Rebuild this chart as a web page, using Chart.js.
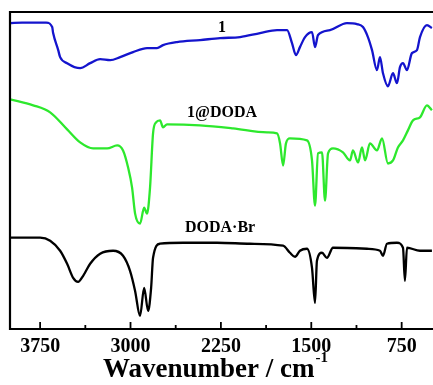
<!DOCTYPE html>
<html>
<head>
<meta charset="utf-8">
<script src="https://cdn.jsdelivr.net/npm/chart.js@4.4.0/dist/chart.umd.min.js"></script>
<style>
  html, body { margin: 0; padding: 0; background: #fff; }
  #wrap { width: 433px; height: 385px; position: relative; }
</style>
</head>
<body>
<div id="wrap"><canvas id="irChart"></canvas></div>
<script>
// IR spectra, wavenumber (cm-1) vs. transmittance (arbitrary, offset traces)
const wnBlue = [4000, 3900, 3700, 3650, 3642, 3600, 3584, 3526, 3418, 3335, 3252, 3169, 3086, 2979, 2863, 2780, 2730, 2614, 2423, 2257, 2091, 1925, 1784, 1701, 1660, 1627, 1594, 1552, 1494, 1469, 1444, 1345, 1204, 1121, 1071, 1030, 996, 955, 930, 905, 864, 822, 789, 764, 739, 706, 665, 623, 598, 540, 499];
const tBlue = [305, 305.5, 305.5, 301, 295, 278, 271, 265, 260, 265, 269, 268, 271, 276, 280, 280, 283, 286, 288, 290, 291, 295, 298, 298, 285, 273, 281, 291, 296, 281, 293, 298, 305, 304, 301, 291, 278, 258, 271, 255, 242, 255, 245, 261, 265, 258, 275, 278, 291, 303, 300];

const wnGreen = [4000, 3808, 3667, 3526, 3418, 3310, 3194, 3111, 3062, 3020, 2987, 2962, 2921, 2887, 2863, 2838, 2813, 2788, 2755, 2730, 2697, 2423, 2149, 1867, 1784, 1759, 1734, 1710, 1677, 1536, 1494, 1469, 1444, 1411, 1386, 1361, 1320, 1237, 1179, 1154, 1112, 1079, 1054, 1013, 955, 913, 864, 822, 781, 739, 698, 656, 598, 540, 499];
const tGreen = [229, 223, 216, 199, 186, 180, 180, 183, 178, 161, 141, 115, 105, 121, 115, 141, 195, 206, 208, 201, 204, 203, 200, 196, 195, 185, 163, 185, 190, 188, 168, 123, 175, 176, 128, 175, 180, 176, 168, 178, 166, 181, 168, 185, 178, 190, 165, 168, 181, 188, 198, 208, 211, 223, 218];

const wnBlack = [4000, 3750, 3667, 3584, 3526, 3476, 3435, 3393, 3335, 3252, 3145, 3062, 3004, 2962, 2921, 2887, 2854, 2829, 2813, 2755, 2564, 2282, 2008, 1734, 1677, 1635, 1594, 1536, 1494, 1469, 1453, 1411, 1370, 1320, 1038, 930, 905, 872, 789, 739, 723, 706, 598, 499];
const tBlack = [91, 91, 88, 78, 65, 51, 47, 53, 65, 75, 78, 73, 58, 38, 13, 41, 18, 41, 71, 85, 86, 86, 85, 83, 76, 72, 78, 80, 61, 26, 68, 76, 71, 81, 80, 78, 73, 85, 86, 81, 48, 81, 78, 78];

const majorTicks = [3750, 3000, 2250, 1500, 750];
const minorTicks = [3375, 2625, 1875, 1125];

const traceLabels = ['1', '1@DODA', 'DODA\u00b7Br'];
const labelSpots = [[2240, 300], [2240, 215], [2257, 101]];

const serif = '"Liberation Serif", "Times New Roman", serif';

function toPoints(xs, ys) {
    return xs.map((x, i) => ({ x: x, y: ys[i] }));
}

// frame, inward ticks, trace names and axis title
const decorPlugin = {
    id: 'decor',
    afterDraw(chart) {
        const ctx = chart.ctx;
        const area = chart.chartArea;
        const xs = chart.scales.x;
        const ys = chart.scales.y;
        ctx.save();
        ctx.strokeStyle = '#000';
        ctx.lineWidth = 2.2;
        ctx.beginPath();
        ctx.moveTo(chart.width + 2, area.top);
        ctx.lineTo(area.left, area.top);
        ctx.lineTo(area.left, area.bottom);
        ctx.lineTo(chart.width + 2, area.bottom);
        ctx.stroke();

        ctx.lineWidth = 1.8;
        majorTicks.forEach(v => {
            const px = xs.getPixelForValue(v);
            ctx.beginPath();
            ctx.moveTo(px, area.bottom);
            ctx.lineTo(px, area.bottom - 7);
            ctx.stroke();
        });
        minorTicks.forEach(v => {
            const px = xs.getPixelForValue(v);
            ctx.beginPath();
            ctx.moveTo(px, area.bottom);
            ctx.lineTo(px, area.bottom - 4);
            ctx.stroke();
        });

        ctx.fillStyle = '#000';
        ctx.textAlign = 'center';
        ctx.textBaseline = 'middle';
        ctx.font = 'bold 16px ' + serif;
        traceLabels.forEach((t, i) => {
            ctx.fillText(t, xs.getPixelForValue(labelSpots[i][0]), ys.getPixelForValue(labelSpots[i][1]));
        });

        // axis title with superscript
        const main = 'Wavenumber / cm';
        const sup = '-1';
        ctx.font = 'bold 27px ' + serif;
        const wMain = ctx.measureText(main).width;
        ctx.font = 'bold 15px ' + serif;
        const wSup = ctx.measureText(sup).width;
        const startX = 215 - (wMain + wSup) / 2;
        ctx.textAlign = 'left';
        ctx.textBaseline = 'alphabetic';
        ctx.font = 'bold 27px ' + serif;
        ctx.fillText(main, startX, 377);
        ctx.font = 'bold 15px ' + serif;
        ctx.fillText(sup, startX + wMain + 1, 362);
        ctx.restore();
    }
};

const ctx = document.getElementById('irChart').getContext('2d');
const irChart = new Chart(ctx, {
    type: 'line',
    data: {
        datasets: [
            { label: '1', data: toPoints(wnBlue, tBlue), borderColor: 'rgb(20, 20, 205)' },
            { label: '1@DODA', data: toPoints(wnGreen, tGreen), borderColor: 'rgb(45, 232, 45)' },
            { label: 'DODA\u00b7Br', data: toPoints(wnBlack, tBlack), borderColor: '#000' }
        ]
    },
    options: {
        responsive: true,
        maintainAspectRatio: false,
        animation: false,
        layout: { padding: { left: 10, top: 12, right: 0, bottom: 20 } },
        elements: {
            point: { radius: 0 },
            line: { borderWidth: 2.3, cubicInterpolationMode: 'monotone', fill: false }
        },
        plugins: {
            legend: { display: false },
            tooltip: { enabled: false }
        },
        scales: {
            x: {
                type: 'linear',
                reverse: true,
                min: 490,
                max: 4000,
                afterBuildTicks: (scale) => {
                    scale.ticks = majorTicks.map(v => ({ value: v }));
                },
                grid: { display: false, drawTicks: false },
                border: { display: false },
                ticks: {
                    padding: 6,
                    color: '#000',
                    maxRotation: 0,
                    callback: (v) => String(v),
                    font: { family: serif, size: 20, weight: 'bold' }
                }
            },
            y: {
                display: false,
                min: 0,
                max: 316
            }
        }
    },
    plugins: [decorPlugin]
});
</script>
</body>
</html>
